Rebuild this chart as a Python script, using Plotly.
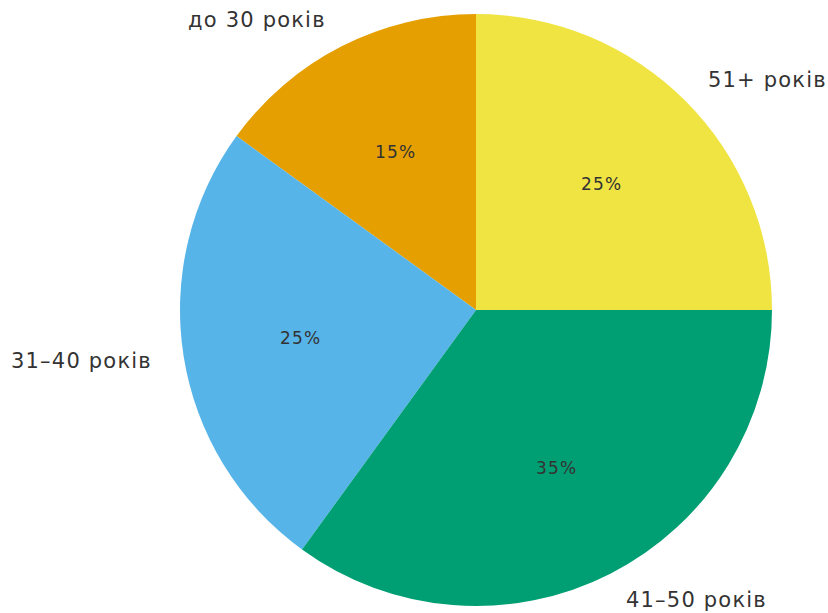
import math
import plotly.graph_objects as go

labels = ["до 30 років", "31–40 років", "41–50 років", "51+ років"]
values = [15, 25, 35, 25]
colors = ["#E69F00", "#56B4E9", "#009E73", "#F0E442"]

W, H = 828, 613
cx, cy, R = 476, 310, 296  # pixel center / radius

total = sum(values)
first_sweep = 360.0 * values[0] / total

fig = go.Figure(go.Pie(
    labels=labels, values=values, sort=False,
    direction="counterclockwise", rotation=-first_sweep,
    marker=dict(colors=colors, line=dict(width=0)),
    textinfo="none", showlegend=False, hoverinfo="label+percent",
    domain=dict(x=[(cx - R) / W, (cx + R) / W],
                y=[(H - cy - R) / H, (H - cy + R) / H]),
))

annotations = []
start = 90.0
for lab, v in zip(labels, values):
    sweep = 360.0 * v / total
    mid = math.radians(start + sweep / 2)
    start += sweep
    lx = cx + 1.1 * R * math.cos(mid)
    ly = cy - 1.1 * R * math.sin(mid)
    annotations.append(dict(
        x=lx / W, y=1 - ly / H, xref="paper", yref="paper",
        text=f'<span style="letter-spacing:1.2px">{lab}</span>', showarrow=False,
        xanchor="left" if math.cos(mid) > 0 else "right", yanchor="middle",
        font=dict(family="DejaVu Sans", size=21, color="#333333")))
    px = cx + 0.6 * R * math.cos(mid)
    py = cy - 0.6 * R * math.sin(mid)
    annotations.append(dict(
        x=px / W, y=1 - py / H, xref="paper", yref="paper",
        text=f'<span style="letter-spacing:1.2px">{round(100 * v / total)}%</span>',
        showarrow=False, xanchor="center", yanchor="middle",
        font=dict(family="DejaVu Sans", size=17, color="#333333")))

fig.update_layout(
    width=W, height=H,
    margin=dict(l=0, r=0, t=0, b=0),
    paper_bgcolor="white", plot_bgcolor="white",
    annotations=annotations,
)

fig.write_html("out.html", config={"displayModeBar": False},
               post_script="document.body.style.margin='0';document.body.style.overflow='hidden';")
